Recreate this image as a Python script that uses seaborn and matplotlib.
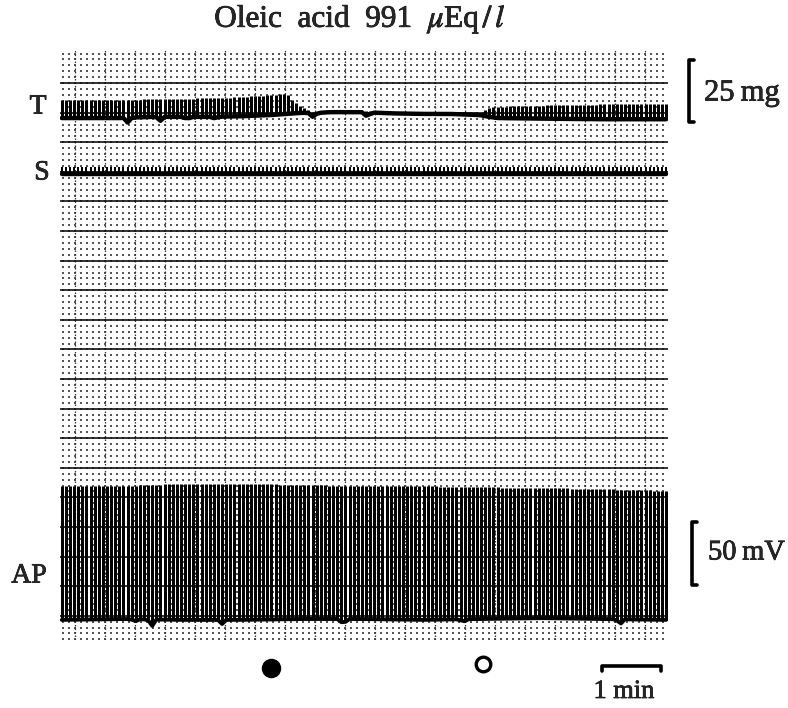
import numpy as np
import matplotlib
matplotlib.use("Agg")
import matplotlib.pyplot as plt
import matplotlib.patheffects as pe
import seaborn as sns

# ---------------- data read from the recording ----------------
# time in minutes, levels in chart millimetres (1 small grid division = 1 mm)
beat_rate_per_min = 14.6
record_end_min = 10.13

# T (tension) trace: envelope readings
t_knots_min = [0.0, 0.5, 1.0, 1.5, 2.0, 2.5, 3.0, 3.5, 3.78, 3.9, 4.05, 4.2, 4.5,
               5.0, 5.5, 6.0, 6.5, 7.0, 7.15, 7.3, 8.0, 9.0, 10.13]
t_base_mm = [84.1, 84.1, 84.1, 84.3, 84.3, 84.3, 84.4, 84.6, 84.8, 84.9, 85.0, 84.9, 85.1,
             85.1, 84.9, 84.8, 84.8, 84.6, 84.3, 84.1, 84.0, 83.9, 83.9]
t_amp_mm = [3.0, 3.0, 3.0, 3.0, 3.0, 3.2, 3.2, 3.4, 3.4, 1.9, 0.9, 0.25, 0.25,
            0.25, 0.25, 0.25, 0.25, 0.25, 1.5, 1.9, 2.2, 2.5, 2.6]
t_dip_min = [1.13, 1.67, 2.12, 2.58, 4.22, 5.12]
t_dip_mm = [0.85, 0.7, 0.4, 0.3, 0.7, 0.8]

# S (stimulus) trace
s_base_mm = 74.6
s_amp_mm = 1.3

# AP (action potential) trace: envelope readings
ap_knots_min = [0, 1, 2, 3, 4, 5, 6, 7, 8, 9, 10.13]
ap_base_mm = [-0.7, -0.55, -0.7, -0.7, -0.55, -0.55, -0.7, -0.55, -0.4, -0.55, -0.7]
ap_top_mm = [21.9, 21.9, 22.3, 22.3, 22.1, 21.9, 21.9, 21.7, 21.6, 21.4, 21.1]
ap_dip_min = [1.25, 1.53, 2.7, 4.72, 6.72, 9.33]
ap_dip_mm = [0.4, 1.2, 0.7, 1.0, 0.5, 0.9]

# markers and scale bars
event_filled_min = 3.52
event_open_min = 7.05
scale_1min_min = [9.03, 10.02]
scale_25mg_mm = [83.5, 93.9]
scale_50mV_mm = [5.2, 15.8]

trace_labels = ["T", "S", "AP"]
scale_labels = ["25\u2009mg", "50\u2009mV", "1 min"]
title_text = r"Oleic  acid  991  $\mu$Eq$\,/\,l$"

# ---------------- figure ----------------
W, H = 788, 708
sns.set_style("white")
plt.rcParams['font.family'] = ['Liberation Serif', 'DejaVu Serif']
plt.rcParams['mathtext.fontset'] = 'stix'

fig = plt.figure(figsize=(W / 100, H / 100), dpi=100)
fig.patch.set_facecolor('white')
L, R, TOP, BOT = 60, 668, 50, 640
ax = fig.add_axes([L / W, 1 - BOT / H, (R - L) / W, (BOT - TOP) / H])
ax.set_xlim(0, record_end_min)
ax.set_ylim(-4.1, 95.6)
ax.axis('off')

def fx(px):
    return px / W

def fy(py):
    return 1 - py / H

# chart paper grid
gx = np.arange(0.05, record_end_min, 0.1)
gy = np.arange(-4, 96, 1.0)
GX, GY = np.meshgrid(gx, gy)
ax.scatter(GX.ravel(), GY.ravel(), s=1.8, c='#555555', marker='s', linewidths=0, zorder=1)
for xv in np.arange(0.25, record_end_min, 0.5):
    ax.axvline(xv, color='#333333', lw=0.9, ls=(0, (1.2, 1.6)), zorder=1)
for yv in np.arange(0, 91, 5):
    ax.axhline(yv, color='#111111', lw=1.2, zorder=2)

# beats
beats = np.arange(0.03, record_end_min, 1 / beat_rate_per_min)

def dips(t, times, depths, w=0.07):
    d = np.zeros_like(t)
    for tc, dd in zip(times, depths):
        d += dd * np.clip(1 - np.abs(t - tc) / w, 0, None)
    return d

px_pt = 72 / 100  # one device pixel in points
s_bar_lw = 2 * px_pt
t_bar_lw = 3 * px_pt
ap_bar_lw = 3 * px_pt

# T trace
t_b = np.interp(beats, t_knots_min, t_base_mm)
t_top = t_b + np.interp(beats, t_knots_min, t_amp_mm)
t_line = t_b - dips(beats, t_dip_min, t_dip_mm)
ax.vlines(beats, t_line, t_top, color='k', lw=t_bar_lw, zorder=3, snap=True)
sns.lineplot(x=beats, y=t_line, ax=ax, color='k', lw=3.2, sort=False, estimator=None, zorder=4)

# S trace
s_line = np.full_like(beats, s_base_mm)
ax.vlines(beats, s_line, s_line + s_amp_mm, color='k', lw=s_bar_lw, zorder=3, snap=True)
sns.lineplot(x=beats, y=s_line, ax=ax, color='k', lw=3.2, sort=False, estimator=None, zorder=4)

# AP trace
ap_b = np.interp(beats, ap_knots_min, ap_base_mm) - dips(beats, ap_dip_min, ap_dip_mm)
ap_t = np.interp(beats, ap_knots_min, ap_top_mm)
ax.vlines(beats, ap_b, ap_t, color='k', lw=ap_bar_lw, zorder=3, snap=True)
sns.lineplot(x=beats, y=ap_b, ax=ax, color='k', lw=2.8, sort=False, estimator=None, zorder=4)

# scale bars
def bracket(x0, y0, y1):
    ax.plot([x0 + 0.09, x0, x0, x0 + 0.09], [y1, y1, y0, y0], color='k', lw=2.6,
            clip_on=False, solid_joinstyle='round', solid_capstyle='round')

bracket(10.48, scale_25mg_mm[0], scale_25mg_mm[1])
bracket(10.53, scale_50mV_mm[0], scale_50mV_mm[1])
ax.plot([scale_1min_min[0], scale_1min_min[0], scale_1min_min[1], scale_1min_min[1]],
        [-9.4, -8.5, -8.5, -9.4], color='k', lw=2.6, clip_on=False)

# event markers
ax.plot([event_filled_min], [-8.8], 'o', ms=13, color='k', clip_on=False)
ax.plot([event_open_min], [-8.2], 'o', ms=10.5, mfc='white', mec='k', mew=2.4, clip_on=False)

# texts (slightly thickened like the scanned print)
heavy = [pe.withStroke(linewidth=0.5, foreground='black')]
fig.text(fx(360), fy(19), title_text, ha='center', va='center', fontsize=22.5, path_effects=heavy)
fig.text(fx(38), fy(107), trace_labels[0], ha='center', va='center', fontsize=20, path_effects=heavy)
fig.text(fx(42), fy(173), trace_labels[1], ha='center', va='center', fontsize=20, path_effects=heavy)
fig.text(fx(29), fy(576), trace_labels[2], ha='center', va='center', fontsize=20, path_effects=heavy)
fig.text(fx(704), fy(93), scale_labels[0], ha='left', va='center', fontsize=22, path_effects=heavy)
fig.text(fx(708), fy(553), scale_labels[1], ha='left', va='center', fontsize=20.5, path_effects=heavy)
fig.text(fx(624), fy(692), scale_labels[2], ha='center', va='center', fontsize=19, path_effects=heavy)

fig.savefig("out.png", dpi=100, facecolor='white')
